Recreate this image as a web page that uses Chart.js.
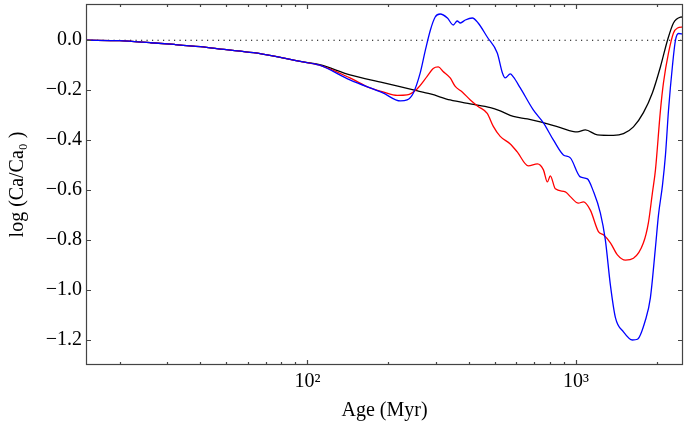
<!DOCTYPE html>
<html>
<head>
<meta charset="utf-8">
<script src="https://cdn.jsdelivr.net/npm/chart.js@4/dist/chart.umd.min.js"></script>
<style>
  html, body { margin: 0; padding: 0; background: #fff; }
  #wrap { width: 684px; height: 429px; }
</style>
</head>
<body>
<div id="wrap"><canvas id="ca-chart" width="684" height="429"></canvas></div>
<script>
// Ages (Myr) and log(Ca/Ca0), one pair of arrays per curve
const ageBlack = [15, 20, 26, 32, 40, 49, 63, 76, 94, 111, 144, 191, 248, 287, 340, 404, 480, 522, 584, 659, 736, 874, 1011, 1083, 1200, 1377, 1501, 1635, 1781, 1924, 2061, 2189, 2304, 2447, 2500];
const logBlack = [0, -0.002, -0.01, -0.017, -0.026, -0.037, -0.05, -0.065, -0.085, -0.098, -0.139, -0.17, -0.199, -0.215, -0.239, -0.255, -0.27, -0.283, -0.305, -0.315, -0.327, -0.35, -0.367, -0.359, -0.379, -0.381, -0.374, -0.347, -0.29, -0.21, -0.106, 0.0, 0.069, 0.092, 0.093];

const ageRed = [15, 20, 26, 32, 40, 49, 63, 76, 94, 111, 144, 171, 191, 216, 235, 256, 279, 294, 307, 320, 340, 355, 377, 404, 432, 467, 492, 522, 569, 604, 664, 718, 756, 782, 802, 837, 912, 952, 1020, 1065, 1130, 1211, 1264, 1342, 1425, 1527, 1635, 1781, 1859, 1924, 1974, 2061, 2115, 2208, 2304, 2385, 2500];
const logRed = [0, -0.002, -0.01, -0.017, -0.026, -0.037, -0.05, -0.065, -0.085, -0.1, -0.151, -0.191, -0.207, -0.221, -0.219, -0.195, -0.145, -0.113, -0.107, -0.125, -0.151, -0.185, -0.207, -0.239, -0.265, -0.293, -0.345, -0.385, -0.415, -0.447, -0.503, -0.495, -0.519, -0.567, -0.543, -0.595, -0.607, -0.626, -0.652, -0.647, -0.68, -0.766, -0.779, -0.811, -0.859, -0.88, -0.873, -0.811, -0.73, -0.61, -0.52, -0.28, -0.17, -0.051, 0.029, 0.049, 0.053];

const ageBlue = [15, 20, 26, 32, 40, 49, 63, 76, 94, 111, 144, 191, 222, 235, 248, 263, 275, 287, 299, 312, 332, 349, 361, 371, 387, 411, 432, 467, 509, 532, 545, 569, 584, 620, 693, 756, 823, 897, 952, 1037, 1102, 1160, 1231, 1285, 1342, 1401, 1501, 1621, 1692, 1812, 1891, 1974, 2026, 2097, 2151, 2208, 2285, 2344, 2405, 2500];
const logBlue = [0, -0.002, -0.01, -0.017, -0.026, -0.037, -0.05, -0.065, -0.085, -0.1, -0.159, -0.211, -0.243, -0.239, -0.211, -0.131, -0.039, 0.041, 0.093, 0.105, 0.089, 0.061, 0.077, 0.069, 0.081, 0.089, 0.069, 0.013, -0.051, -0.131, -0.151, -0.135, -0.147, -0.191, -0.279, -0.331, -0.399, -0.459, -0.471, -0.547, -0.555, -0.605, -0.691, -0.799, -0.98, -1.11, -1.167, -1.2, -1.197, -1.12, -1.03, -0.83, -0.7, -0.58, -0.46, -0.28, -0.1, 0.0, 0.027, 0.025];

const refAges = [15, 2500];
const refLog = [0, 0];

const xMajorTicks = [100, 1000];
const xMajorLabels = ["10\u00B2", "10\u00B3"];
const xMinorTicks = [20, 30, 40, 50, 60, 70, 80, 90, 200, 300, 400, 500, 600, 700, 800, 900, 2000];
const yTicks = [-1.2, -1.0, -0.8, -0.6, -0.4, -0.2, 0.0];

const FONT = "'Liberation Serif', 'Times New Roman', serif";

function pts(xs, ys) {
  return xs.map((x, i) => ({ x, y: ys[i] }));
}

function line(data, color, order, extra) {
  return Object.assign({
    data,
    borderColor: color,
    borderWidth: 1.3,
    pointRadius: 0,
    fill: false,
    tension: 0,
    cubicInterpolationMode: "monotone",
    order,
  }, extra || {});
}

// no extra room for half-labels; the frame should sit where the original one does
function noPad(s) {
  s.paddingTop = 0;
  s.paddingBottom = 0;
  s.paddingLeft = 0;
  s.paddingRight = 0;
}

// frame + inward ticks on all four sides, like the original plot
const frameTicks = {
  id: "frameTicks",
  afterDatasetsDraw(chart) {
    const { ctx, chartArea: a, scales: { x, y } } = chart;
    ctx.save();
    ctx.strokeStyle = "#444";
    ctx.lineWidth = 1.2;
    ctx.strokeRect(a.left + 0.5, a.top + 0.5, a.right - a.left - 1, a.bottom - a.top - 1);
    ctx.beginPath();
    const xTick = (v, len) => {
      const px = Math.round(x.getPixelForValue(v)) + 0.5;
      ctx.moveTo(px, a.bottom); ctx.lineTo(px, a.bottom - len);
      ctx.moveTo(px, a.top); ctx.lineTo(px, a.top + len);
    };
    xMajorTicks.forEach((v) => xTick(v, 5));
    xMinorTicks.forEach((v) => xTick(v, 3));
    yTicks.forEach((v) => {
      const py = Math.round(y.getPixelForValue(v)) + 0.5;
      ctx.moveTo(a.left, py); ctx.lineTo(a.left + 5, py);
      ctx.moveTo(a.right, py); ctx.lineTo(a.right - 5, py);
    });
    ctx.stroke();
    ctx.restore();
  },
};

new Chart(document.getElementById("ca-chart"), {
  type: "line",
  data: {
    datasets: [
      line(pts(ageBlue, logBlue), "#0000ff", 1),
      line(pts(ageRed, logRed), "#ff0000", 2),
      line(pts(ageBlack, logBlack), "#000000", 3),
      line(pts(refAges, refLog), "#000000", 4, { borderWidth: 1.1, borderDash: [1.2, 4.3], cubicInterpolationMode: "default" }),
    ],
  },
  options: {
    responsive: false,
    animation: false,
    layout: { padding: { top: 4, right: 1, left: 0, bottom: 0 } },
    plugins: { legend: { display: false }, tooltip: { enabled: false } },
    scales: {
      x: {
        type: "logarithmic",
        min: 15,
        max: 2500,
        afterBuildTicks: (s) => { s.ticks = xMajorTicks.map((v) => ({ value: v })); },
        afterFit: (s) => { s.height = 64; noPad(s); },
        grid: { display: false, drawTicks: false },
        border: { display: false },
        ticks: {
          autoSkip: false,
          maxRotation: 0,
          padding: 5,
          color: "#000",
          font: { family: FONT, size: 20 },
          callback: (v) => xMajorLabels[xMajorTicks.indexOf(v)] || "",
        },
        title: {
          display: true,
          text: "Age (Myr)",
          color: "#000",
          font: { family: FONT, size: 20 },
          padding: { top: 0, bottom: 6 },
        },
      },
      y: {
        min: -1.3,
        max: 0.145,
        afterBuildTicks: (s) => { s.ticks = yTicks.map((v) => ({ value: v })); },
        afterFit: (s) => { s.width = 86; noPad(s); },
        grid: { display: false, drawTicks: false },
        border: { display: false },
        ticks: {
          padding: 4,
          color: "#000",
          font: { family: FONT, size: 20 },
          callback: (v) => (v < -1e-9 ? "\u2212" : "") + Math.abs(v).toFixed(1),
        },
        title: {
          display: true,
          text: "log (Ca/Ca\u2080 )",
          color: "#000",
          font: { family: FONT, size: 20 },
          padding: { top: 6, bottom: 0 },
        },
      },
    },
  },
  plugins: [frameTicks],
});
</script>
</body>
</html>
